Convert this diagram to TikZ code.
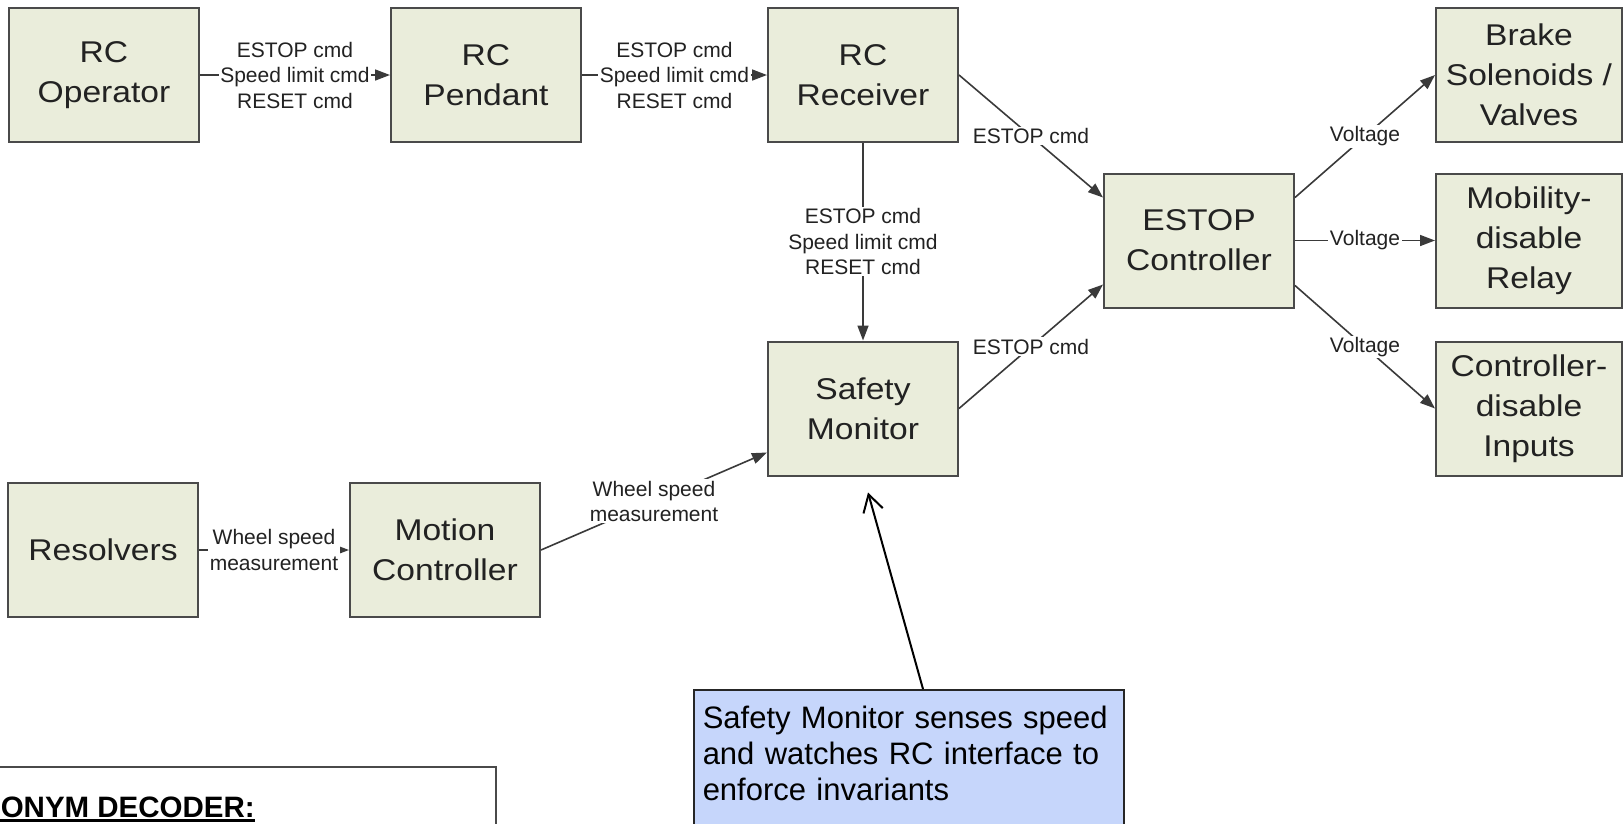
\documentclass[tikz,border=0pt]{standalone}
\usepackage{fontspec}
\setmainfont{Liberation Sans}
\newfontfamily\blockfont[FakeStretch=1.12]{Liberation Sans}
\usetikzlibrary{arrows.meta,calc}

\definecolor{boxfill}{HTML}{EAEDDB}
\definecolor{boxline}{HTML}{4A4A4A}
\definecolor{wire}{HTML}{3A3A3A}
\definecolor{notefill}{HTML}{C6D6FB}
\definecolor{ink}{HTML}{222222}

\begin{document}
\begin{tikzpicture}[x=1pt,y=-1pt,
  block/.style={draw=boxline, line width=2pt, fill=boxfill,
    minimum width=190pt, minimum height=134pt, inner sep=0pt,
    align=center, text=ink, font=\blockfont\fontsize{30}{40}\selectfont},
  sideblock/.style={block, minimum width=186pt},
  flow/.style={draw=wire, line width=1.6pt,
    -{Triangle[length=15pt,width=11pt]}},
  lbl/.style={fill=white, inner sep=1.5pt, align=center, text=ink,
    font=\fontsize{21}{25.5}\selectfont},
  note/.style={draw=black!85, line width=1.5pt, fill=notefill,
    align=left, text width=412pt, inner xsep=9pt, inner ysep=16pt,
    text=black, font=\fontsize{31}{36}\selectfont},
  decoder/.style={draw=boxline, line width=2pt, fill=white}
]
\useasboundingbox (0,0) rectangle (1623,823);

% blocks
\node[block] (op)   at (104,75)    {RC\\Operator};
\node[block] (pend) at (486,75)    {RC\\Pendant};
\node[block] (recv) at (863,75)    {RC\\Receiver};
\node[block] (estop) at (1199,240.5) {ESTOP\\Controller};
\node[sideblock] (brake) at (1529,75)    {Brake\\Solenoids /\\Valves};
\node[sideblock] (mob)   at (1529,240.5) {Mobility-\\disable\\Relay};
\node[sideblock] (cdis)  at (1529,408.5) {Controller-\\disable\\Inputs};
\node[block] (sm)   at (863,408.5) {Safety\\Monitor};
\node[block] (res)  at (103,550)   {Resolvers};
\node[block] (mc)   at (445,550)   {Motion\\Controller};

% signal flow
\draw[flow] (op) -- node[lbl]{ESTOP cmd\\Speed limit cmd\\RESET cmd} (pend);
\draw[flow] (pend) -- node[lbl]{ESTOP cmd\\Speed limit cmd\\RESET cmd} (recv);
\draw[flow] (recv) -- node[lbl]{ESTOP cmd\\Speed limit cmd\\RESET cmd} (sm);
\draw[flow] (recv.east) -- node[lbl]{ESTOP cmd} ($(estop.west)+(0,-43)$);
\draw[flow] (sm.east) -- node[lbl]{ESTOP cmd} ($(estop.west)+(0,44)$);
\draw[flow] ($(estop.east)+(0,-43)$) -- node[lbl]{Voltage} (brake.west);
\draw[flow] (estop.east) -- node[lbl]{Voltage} (mob.west);
\draw[flow] ($(estop.east)+(0,45)$) -- node[lbl]{Voltage} (cdis.west);
\draw[flow] (res) -- node[lbl]{Wheel speed\\measurement} (mc);
\draw[flow] (mc.east) -- node[lbl]{Wheel speed\\measurement} ($(sm.west)+(0,44)$);

% callout note
\node[note, anchor=north west] (remark) at (693,689)
  {Safety Monitor senses speed\\and watches RC interface to\\enforce invariants\rule[-40pt]{0pt}{0pt}};
\coordinate (tip) at ($(sm.south)+(5,16)$);
\draw[black, line width=2pt, -{Straight Barb[length=17pt,width=20pt]}]
  ($(remark.north west)+(230,0)$) -- (tip);

% acronym decoder panel
\node[decoder, anchor=north east, minimum width=540pt, minimum height=100pt] (dec) at (497,766) {};
\node[anchor=base east, inner sep=0pt, font=\fontsize{29.5}{34}\selectfont\bfseries] (dechead) at (255,817) {ACRONYM DECODER:};
\draw[line width=3pt] ($(dechead.base west)+(0,3)$) -- ($(dechead.base east)+(0,3)$);
\end{tikzpicture}
\end{document}
